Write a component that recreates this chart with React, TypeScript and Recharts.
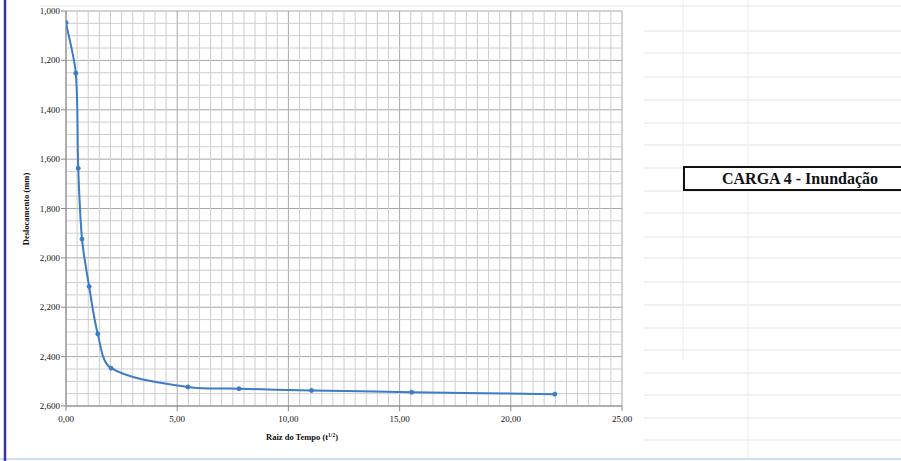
import { CartesianGrid, Label, Line, LineChart, ReferenceLine, XAxis, YAxis } from "recharts";

// raiz do tempo (t^1/2) e deslocamento (mm)
const raizTempo = [0, 0.44, 0.55, 0.72, 1.04, 1.43, 2.03, 5.48, 7.78, 11.04, 15.54, 21.98];
const deslocamento = [1.047, 1.252, 1.637, 1.924, 2.116, 2.308, 2.447, 2.523, 2.53, 2.537, 2.544, 2.552];

const xTicks = [0, 5, 10, 15, 20, 25];
const yTicks = [1.0, 1.2, 1.4, 1.6, 1.8, 2.0, 2.2, 2.4, 2.6];
// grade secundária (sem as linhas principais)
const xMinor = Array.from({ length: 49 }, (_, i) => i + 1)
  .filter((i) => i % 10 !== 0)
  .map((i) => i * 0.5);
const yMinor = Array.from({ length: 31 }, (_, i) => i + 1)
  .filter((i) => i % 4 !== 0)
  .map((i) => 1 + i * 0.05);

const rows = raizTempo.map((x, i) => ({ x, y: deslocamento[i] }));

const serif = "Liberation Serif";
const blue = "#3d7cc6";

const fmt2 = (v: number) => v.toFixed(2).replace(".", ",");
const fmt3 = (v: number) => v.toFixed(3).replace(".", ",");

// linhas claras da planilha atrás do gráfico
const sheetRows = [31, 53, 77, 100, 123, 145, 168, 191, 213, 237, 258, 282, 305, 328, 350, 373, 395, 418, 440];

// suavização tipo Excel: tangente pelos vizinhos, alças proporcionais ao segmento
function excelSmooth(context: any) {
  let pts: number[][] = [];
  const unit = (a: number[], b: number[]) => {
    const dx = b[0] - a[0];
    const dy = b[1] - a[1];
    const l = Math.hypot(dx, dy) || 1;
    return [dx / l, dy / l];
  };
  return {
    areaStart() {},
    areaEnd() {},
    lineStart() {
      pts = [];
    },
    lineEnd() {
      const n = pts.length;
      if (!n) return;
      context.moveTo(pts[0][0], pts[0][1]);
      const s = 0.3;
      for (let i = 0; i < n - 1; i++) {
        const p0 = pts[i - 1] || pts[i];
        const p1 = pts[i];
        const p2 = pts[i + 1];
        const p3 = pts[i + 2] || p2;
        const len = Math.hypot(p2[0] - p1[0], p2[1] - p1[1]) * s;
        const t1 = unit(p0, p2);
        const t2 = unit(p1, p3);
        context.bezierCurveTo(
          p1[0] + t1[0] * len,
          p1[1] + t1[1] * len,
          p2[0] - t2[0] * len,
          p2[1] - t2[1] * len,
          p2[0],
          p2[1]
        );
      }
    },
    point(x: number, y: number) {
      pts.push([+x, +y]);
    },
  };
}

function XTick({ x, y, payload }: any) {
  return (
    <text x={x} y={y + 7} textAnchor="middle" fontFamily={serif} fontSize={9} fill="#111">
      {fmt2(payload.value)}
    </text>
  );
}

function YTick({ x, y, payload }: any) {
  return (
    <text x={x} y={y + 3} textAnchor="end" fontFamily={serif} fontSize={9} fill="#111">
      {fmt3(payload.value)}
    </text>
  );
}

export default function App() {
  return (
    <div
      style={{
        position: "absolute",
        left: 0,
        top: 0,
        width: 901,
        height: 461,
        background: "#fff",
        overflow: "hidden",
      }}
    >
      <svg width={901} height={461} style={{ position: "absolute", left: 0, top: 0 }}>
        {sheetRows.map((y) => (
          <line key={y} x1={644} x2={901} y1={y} y2={y} stroke="#e4e4e4" strokeWidth={1} />
        ))}
        <line x1={683} x2={683} y1={0} y2={360} stroke="#ececec" />
        <line x1={748} x2={748} y1={0} y2={461} stroke="#ececec" />
        <line x1={40} x2={901} y1={6} y2={6} stroke="#e6e6e6" />
        <line x1={0} x2={901} y1={459} y2={459} stroke="#cfe0f2" strokeWidth={2} />
        <line x1={5} x2={5} y1={0} y2={461} stroke="#3434a6" strokeWidth={2.5} />
      </svg>
      <div style={{ position: "absolute", left: 0, top: 0 }}>
        <LineChart
          width={901}
          height={461}
          data={rows}
          margin={{ top: 11, right: 279, bottom: 15, left: 0 }}
        >
          <CartesianGrid stroke="#a8a8a8" strokeWidth={1} />
          {xMinor.map((v) => (
            <ReferenceLine key={"x" + v} x={v} stroke="#cecece" strokeWidth={1} />
          ))}
          {yMinor.map((v) => (
            <ReferenceLine key={"y" + v} y={v} stroke="#cecece" strokeWidth={1} />
          ))}
          <XAxis
            dataKey="x"
            type="number"
            domain={[0, 25]}
            ticks={xTicks}
            interval={0}
            tick={<XTick />}
            tickSize={5}
            tickMargin={4}
            height={40}
            stroke="#8a8a8a"
            allowDataOverflow
          >
            <Label
              content={() => (
                <text
                  x={302}
                  y={440}
                  textAnchor="middle"
                  fontFamily={serif}
                  fontSize={8.5}
                  fontWeight="bold"
                  fill="#111"
                >
                  Raiz do Tempo (t
                  <tspan dy={-3} fontSize={5.5}>1/2</tspan>
                  <tspan dy={3}>)</tspan>
                </text>
              )}
            />
          </XAxis>
          <YAxis
            type="number"
            domain={[1, 2.6]}
            reversed
            ticks={yTicks}
            interval={0}
            tick={<YTick />}
            tickSize={5}
            tickMargin={1}
            width={66}
            stroke="#8a8a8a"
            allowDataOverflow
          >
            <Label
              content={() => (
                <text
                  transform="translate(29,209) rotate(-90)"
                  textAnchor="middle"
                  fontFamily={serif}
                  fontSize={8.5}
                  fontWeight="bold"
                  fill="#111"
                >
                  Deslocamento (mm)
                </text>
              )}
            />
          </YAxis>
          <Line
            type={excelSmooth as any}
            dataKey="y"
            stroke={blue}
            strokeWidth={2}
            dot={{ r: 2, fill: blue, stroke: blue, strokeWidth: 1 }}
            isAnimationActive={false}
          />
        </LineChart>
      </div>
      <div
        style={{
          position: "absolute",
          left: 683,
          top: 166,
          width: 230,
          height: 21,
          border: "2px solid #111",
          background: "#fff",
        }}
      >
        <span
          style={{
            position: "absolute",
            left: 37,
            top: 0,
            whiteSpace: "nowrap",
            fontFamily: serif,
            fontWeight: "bold",
            fontSize: 16,
            lineHeight: "21px",
            color: "#111",
          }}
        >
          CARGA 4 - Inundação
        </span>
      </div>
    </div>
  );
}
